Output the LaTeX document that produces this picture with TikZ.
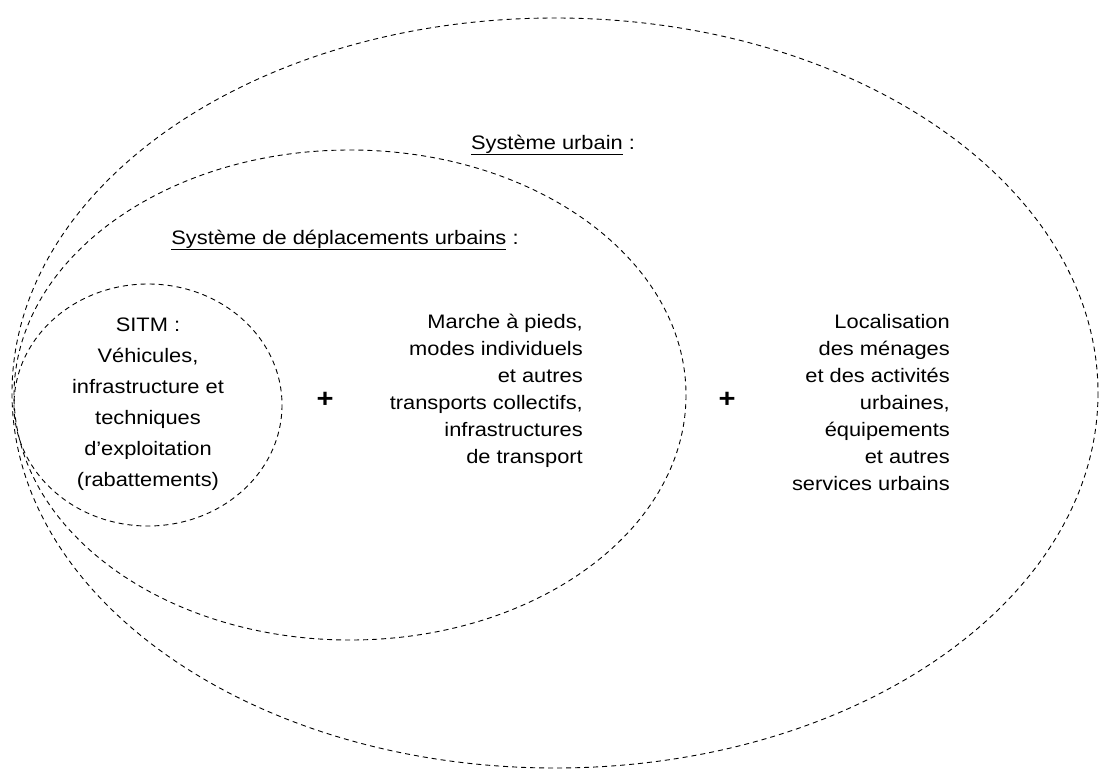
\documentclass[tikz,border=0pt]{standalone}
\usepackage{fontspec}
\setmainfont{Liberation Sans}[FakeStretch=1.12]
\usetikzlibrary{positioning}

\begin{document}
\begin{tikzpicture}[x=1pt,y=-1pt,
  every node/.style={inner sep=0pt,font=\fontsize{19.5}{27}\selectfont},
  zone/.style={line width=0.9pt,dash pattern=on 5pt off 4pt}]
  \useasboundingbox (0,0) rectangle (1099,771);

  \draw[zone] (555,393) ellipse [x radius=543, y radius=375];
  \draw[zone] (350,395) ellipse [x radius=336, y radius=245];
  \draw[zone] (148,405) ellipse [x radius=134, y radius=121];

  \node (urb) at (553,145) {\underline{Système urbain} :};
  \node (dep) at (345,240) {\underline{Système de déplacements urbains} :};

  \node[align=center,font=\fontsize{19.5}{31}\selectfont] (sitm) at (148,404) {SITM :\\Véhicules,\\infrastructure et\\techniques\\d'exploitation\\(rabattements)};
  \node[font=\bfseries\fontsize{26}{26}\selectfont] (plus1) at (325,400) {+};
  \node[align=right,anchor=north east] (marche) at (583,314) {Marche à pieds,\\modes individuels\\et autres\\transports collectifs,\\infrastructures\\de transport};
  \node[font=\bfseries\fontsize{26}{26}\selectfont] (plus2) at (727,400) {+};
  \node[align=right,anchor=north east] (loc) at (950,314) {Localisation\\des ménages\\et des activités\\urbaines,\\équipements\\et autres\\services urbains};
\end{tikzpicture}
\end{document}
